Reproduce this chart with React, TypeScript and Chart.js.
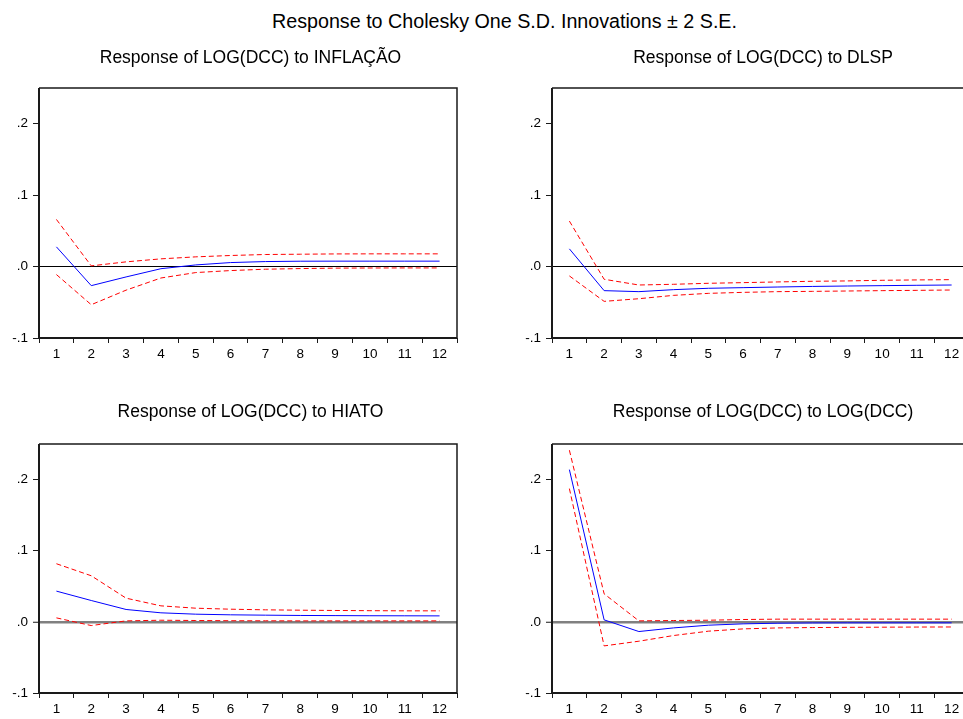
import React, { useEffect, useRef } from "react";
import { Chart, registerables } from "chart.js";

Chart.register(...registerables);

// Impulse-response horizon (periods after the shock)
const PERIODS = ["1", "2", "3", "4", "5", "6", "7", "8", "9", "10", "11", "12"];

// Y axis ticks and their EViews-style labels
const Y_TICK_VALUES = [-0.1, 0, 0.1, 0.2];
const Y_TICK_LABELS = ["-.1", ".0", ".1", ".2"];

// Response of LOG(DCC) to INFLAÇÃO
const INFL_RESP = [0.0276, -0.0267, -0.0145, -0.003, 0.0023, 0.0056, 0.007, 0.0075, 0.0076, 0.0076, 0.0076, 0.0076];
const INFL_UPPER = [0.066, 0.001, 0.0066, 0.0108, 0.0136, 0.0155, 0.0169, 0.0173, 0.0177, 0.0178, 0.0178, 0.0178];
const INFL_LOWER = [-0.0112, -0.0534, -0.033, -0.016, -0.0084, -0.0056, -0.0037, -0.0028, -0.0022, -0.002, -0.0019, -0.0019];

// Response of LOG(DCC) to DLSP
const DLSP_RESP = [0.0248, -0.0337, -0.0351, -0.0323, -0.0304, -0.0295, -0.0286, -0.0278, -0.0272, -0.0267, -0.0262, -0.0258];
const DLSP_UPPER = [0.0637, -0.0178, -0.0258, -0.0248, -0.0234, -0.0225, -0.0215, -0.0206, -0.0201, -0.0192, -0.0187, -0.0183];
const DLSP_LOWER = [-0.0131, -0.0487, -0.045, -0.0403, -0.0375, -0.0361, -0.0351, -0.0347, -0.0342, -0.0337, -0.0333, -0.0328];

// Response of LOG(DCC) to HIATO
const HIATO_RESP = [0.0432, 0.03, 0.0174, 0.0127, 0.0108, 0.0099, 0.0094, 0.009, 0.0088, 0.0086, 0.0085, 0.0084];
const HIATO_UPPER = [0.0817, 0.0648, 0.0333, 0.0225, 0.0192, 0.0178, 0.0169, 0.0164, 0.016, 0.0157, 0.0155, 0.0155];
const HIATO_LOWER = [0.0056, -0.0052, 0.0014, 0.0023, 0.0019, 0.0016, 0.0015, 0.0014, 0.0014, 0.0014, 0.0014, 0.0014];

// Response of LOG(DCC) to LOG(DCC)
const DCC_RESP = [0.214, 0.0028, -0.0136, -0.0085, -0.0047, -0.0028, -0.0019, -0.0015, -0.0014, -0.0014, -0.0014, -0.0014];
const DCC_UPPER = [0.2413, 0.0394, 0.0014, 0.0019, 0.0023, 0.0033, 0.0038, 0.0038, 0.0038, 0.0038, 0.0038, 0.0038];
const DCC_LOWER = [0.1873, -0.0338, -0.0272, -0.0192, -0.0131, -0.0099, -0.0085, -0.008, -0.0077, -0.0075, -0.0073, -0.0072];

const FONT_FAMILY = "'Liberation Sans', Arial, Helvetica, sans-serif";
const AXIS_COLOR = "#1a1a1a";

type Box = { left: number; top: number; width: number; height: number };
type Plot = { left: number; top: number; right: number; bottom: number };

// Draws the closed frame around the plot area
const framePlugin = {
  id: "panelFrame",
  afterDraw(chart: any) {
    const { ctx, chartArea } = chart;
    const { left, top, right, bottom } = chartArea;
    ctx.save();
    ctx.strokeStyle = AXIS_COLOR;
    ctx.lineWidth = 1.5;
    ctx.beginPath();
    ctx.moveTo(left, top);
    ctx.lineTo(right, top);
    ctx.lineTo(right, bottom);
    ctx.stroke();
    ctx.lineWidth = 2;
    ctx.beginPath();
    ctx.moveTo(left, top);
    ctx.lineTo(left, bottom);
    ctx.lineTo(right, bottom);
    ctx.stroke();
    ctx.restore();
  },
};

type PanelProps = {
  box: Box;
  plot: Plot;
  title: string;
  titleTop: number;
  resp: number[];
  upper: number[];
  lower: number[];
  zeroColor: string;
  zeroWidth: number;
};

function Panel({ box, plot, title, titleTop, resp, upper, lower, zeroColor, zeroWidth }: PanelProps) {
  const ref = useRef<HTMLCanvasElement>(null);

  useEffect(() => {
    if (!ref.current) return;
    const band = (values: number[]) => ({
      data: values,
      borderColor: "#ff0000",
      borderWidth: 1,
      borderDash: [5, 3],
      pointRadius: 0,
      fill: false,
      tension: 0,
    });
    const chart = new Chart(ref.current, {
      type: "line",
      data: {
        labels: PERIODS,
        datasets: [
          band(upper),
          band(lower),
          {
            data: resp,
            borderColor: "#0000ff",
            borderWidth: 1,
            pointRadius: 0,
            fill: false,
            tension: 0,
          },
        ],
      },
      options: {
        animation: false,
        responsive: false,
        devicePixelRatio: 1,
        layout: {
          padding: {
            top: plot.top - box.top,
            right: box.left + box.width - plot.right,
            left: 0,
            bottom: 0,
          },
        },
        plugins: {
          legend: { display: false },
          tooltip: { enabled: false },
          title: { display: false },
        },
        scales: {
          x: {
            type: "category",
            offset: true,
            border: { display: false },
            grid: {
              offset: true,
              color: "transparent",
              drawTicks: true,
              tickLength: 5,
              tickColor: AXIS_COLOR,
              tickWidth: 1,
            },
            ticks: {
              color: "#000",
              font: { family: FONT_FAMILY, size: 13.5 },
              padding: 3,
              autoSkip: false,
              maxRotation: 0,
            },
            afterFit: (s: any) => {
              s.height = box.top + box.height - plot.bottom;
            },
          },
          y: {
            type: "linear",
            min: -0.1,
            max: 0.25,
            border: { display: false },
            grid: {
              color: (c: any) => (c.tick && c.tick.value === 0 ? zeroColor : "transparent"),
              lineWidth: (c: any) => (c.tick && c.tick.value === 0 ? zeroWidth : 1),
              drawTicks: true,
              tickLength: 6,
              tickColor: AXIS_COLOR,
              tickWidth: 1,
            },
            afterBuildTicks: (s: any) => {
              s.ticks = Y_TICK_VALUES.map((v) => ({ value: v }));
            },
            ticks: {
              color: "#000",
              font: { family: FONT_FAMILY, size: 13.5 },
              padding: 5,
              callback: (_v: any, i: number) => Y_TICK_LABELS[i],
            },
            afterFit: (s: any) => {
              s.width = plot.left - box.left;
            },
          },
        },
      },
      plugins: [framePlugin],
    } as any);
    return () => chart.destroy();
  }, []);

  return (
    <>
      <canvas
        ref={ref}
        width={box.width}
        height={box.height}
        style={{ position: "absolute", left: box.left, top: box.top, width: box.width, height: box.height }}
      />
      <div
        style={{
          position: "absolute",
          left: plot.left + 2.5,
          top: titleTop,
          width: plot.right - plot.left,
          textAlign: "center",
          whiteSpace: "nowrap",
          fontFamily: FONT_FAMILY,
          fontSize: 17.5,
          lineHeight: 1,
          color: "#000",
        }}
      >
        {title}
      </div>
    </>
  );
}

export default function App() {
  return (
    <div
      style={{
        position: "fixed",
        left: 0,
        top: 0,
        width: 963,
        height: 719,
        overflow: "hidden",
        background: "#fff",
      }}
    >
      <div
        style={{
          position: "absolute",
          left: 0,
          top: 11.8,
          width: 1009,
          textAlign: "center",
          whiteSpace: "nowrap",
          fontFamily: FONT_FAMILY,
          fontSize: 19.7,
          lineHeight: 1,
          color: "#000",
        }}
      >
        Response to Cholesky One S.D. Innovations ± 2 S.E.
      </div>
      <Panel
        box={{ left: 0, top: 40, width: 480, height: 330 }}
        plot={{ left: 39, top: 88, right: 457, bottom: 338 }}
        title="Response of LOG(DCC) to INFLAÇÃO"
        titleTop={48.5}
        resp={INFL_RESP}
        upper={INFL_UPPER}
        lower={INFL_LOWER}
        zeroColor="#000000"
        zeroWidth={1}
      />
      <Panel
        box={{ left: 490, top: 40, width: 500, height: 330 }}
        plot={{ left: 552, top: 88, right: 969, bottom: 338 }}
        title="Response of LOG(DCC) to DLSP"
        titleTop={48.5}
        resp={DLSP_RESP}
        upper={DLSP_UPPER}
        lower={DLSP_LOWER}
        zeroColor="#000000"
        zeroWidth={1}
      />
      <Panel
        box={{ left: 0, top: 400, width: 480, height: 330 }}
        plot={{ left: 39, top: 444, right: 457, bottom: 693 }}
        title="Response of LOG(DCC) to HIATO"
        titleTop={402.5}
        resp={HIATO_RESP}
        upper={HIATO_UPPER}
        lower={HIATO_LOWER}
        zeroColor="#808080"
        zeroWidth={2.5}
      />
      <Panel
        box={{ left: 490, top: 400, width: 500, height: 330 }}
        plot={{ left: 552, top: 444, right: 969, bottom: 693 }}
        title="Response of LOG(DCC) to LOG(DCC)"
        titleTop={402.5}
        resp={DCC_RESP}
        upper={DCC_UPPER}
        lower={DCC_LOWER}
        zeroColor="#808080"
        zeroWidth={2.5}
      />
    </div>
  );
}
